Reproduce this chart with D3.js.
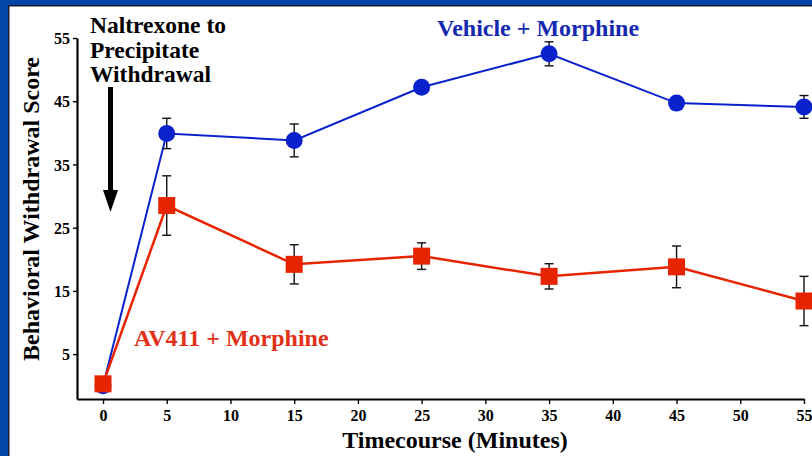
<!DOCTYPE html>
<html>
  <head>
    <meta charset="utf-8" />
    <title>Withdrawal timecourse</title>
    <script type="text/javascript" src="https://cdn.jsdelivr.net/npm/d3@7"></script>
    <style>
      body { margin: 0; background: #fff; }
      text { font-family: "Liberation Serif", "Times New Roman", serif; font-weight: bold; }
    </style>
  </head>
  <body>
    <div id="chart"></div>
    <script>
// timepoints (minutes) and scores
const times = [0, 5, 15, 25, 35, 45, 55];
const vehicleMean = [0, 39.9, 38.8, 47.2, 52.5, 44.7, 44.1];
const vehicleErr = [0, 2.4, 2.6, 0.9, 1.9, 0.7, 1.8];
const av411Mean = [0.3, 28.5, 19.2, 20.5, 17.3, 18.8, 13.4];
const av411Err = [0, 4.7, 3.1, 2.1, 2.0, 3.3, 3.9];
const xTicks = [0, 5, 10, 15, 20, 25, 30, 35, 40, 45, 50, 55];
const yTicks = [5, 15, 25, 35, 45, 55];

const W = 812, H = 456;
const blue = '#0a22cc', red = '#e62400';

const svg = d3.select('#chart').append('svg')
  .attr('width', W).attr('height', H);

// slide frame
svg.append('rect').attr('width', W).attr('height', H).attr('fill', '#0047a8');
svg.append('rect').attr('x', 8).attr('y', 5).attr('width', W).attr('height', H).attr('fill', '#1a1a2a');
svg.append('rect').attr('x', 9.5).attr('y', 6.5).attr('width', W).attr('height', H).attr('fill', '#fff');

const x = d3.scaleLinear().domain([-2.04, 55]).range([77, 804]);
const y = d3.scaleLinear().domain([-2.1, 55]).range([399, 38]);

const xAxis = svg.append('g')
  .attr('transform', 'translate(0,399)')
  .call(d3.axisBottom(x).tickValues(xTicks).tickSize(5).tickSizeOuter(0).tickPadding(6));
const yAxis = svg.append('g')
  .attr('transform', 'translate(77,0)')
  .call(d3.axisLeft(y).tickValues(yTicks).tickSize(4).tickSizeOuter(0).tickPadding(3));

[xAxis, yAxis].forEach(function (a) {
  a.attr('font-family', null).attr('font-size', null);
  a.select('.domain').attr('stroke', '#000').attr('stroke-width', 2.2);
  a.selectAll('.tick line').attr('stroke', '#000').attr('stroke-width', 1.4);
  a.selectAll('.tick text')
    .attr('fill', '#000')
    .style('font-size', '16px');
});
yAxis.selectAll('.tick text').attr('dy', '0.36em');

// axis titles
svg.append('text')
  .attr('x', 455).attr('y', 448)
  .attr('text-anchor', 'middle')
  .style('font-size', '24px')
  .text('Timecourse (Minutes)');
svg.append('text')
  .attr('transform', 'translate(39,209) rotate(-90)')
  .attr('text-anchor', 'middle')
  .style('font-size', '24px')
  .text('Behavioral Withdrawal Score');

const series = [
  { mean: vehicleMean, err: vehicleErr, color: blue, width: 2, shape: 'circle' },
  { mean: av411Mean, err: av411Err, color: red, width: 2.5, shape: 'square' }
];

const line = d3.line().x(d => x(d.t)).y(d => y(d.v));

series.forEach(function (s) {
  const pts = times.map((t, i) => ({ t: t, v: s.mean[i], e: s.err[i] }));

  svg.append('path')
    .datum(pts)
    .attr('fill', 'none')
    .attr('stroke', s.color)
    .attr('stroke-width', s.width)
    .attr('d', line);

  const eb = svg.append('g').selectAll('g').data(pts.filter(d => d.e > 0)).join('g')
    .attr('stroke', '#111').attr('stroke-width', 1.4);
  eb.append('line')
    .attr('x1', d => x(d.t)).attr('x2', d => x(d.t))
    .attr('y1', d => y(d.v + d.e)).attr('y2', d => y(d.v - d.e));
  eb.append('line')
    .attr('x1', d => x(d.t) - 4.5).attr('x2', d => x(d.t) + 4.5)
    .attr('y1', d => y(d.v + d.e)).attr('y2', d => y(d.v + d.e));
  eb.append('line')
    .attr('x1', d => x(d.t) - 4.5).attr('x2', d => x(d.t) + 4.5)
    .attr('y1', d => y(d.v - d.e)).attr('y2', d => y(d.v - d.e));

  if (s.shape === 'circle') {
    svg.append('g').selectAll('circle').data(pts).join('circle')
      .attr('cx', d => x(d.t)).attr('cy', d => y(d.v))
      .attr('r', 8.5).attr('fill', s.color);
  } else {
    svg.append('g').selectAll('rect').data(pts).join('rect')
      .attr('x', d => x(d.t) - 8.5).attr('y', d => y(d.v) - 8.5)
      .attr('width', 17).attr('height', 17)
      .attr('fill', s.color);
  }
});

// labels
svg.append('text').attr('x', 437).attr('y', 36)
  .attr('fill', '#1428b0').style('font-size', '24px')
  .text('Vehicle + Morphine');
svg.append('text').attr('x', 134).attr('y', 346)
  .attr('fill', '#e23019').style('font-size', '24px')
  .text('AV411 + Morphine');

const note = svg.append('text').attr('x', 90).attr('y', 33)
  .attr('fill', '#000').style('font-size', '23.5px');
['Naltrexone to', 'Precipitate', 'Withdrawal'].forEach(function (t, i) {
  note.append('tspan').attr('x', 90).attr('dy', i ? 24.5 : 0).text(t);
});

// arrow
svg.append('line')
  .attr('x1', 110.5).attr('x2', 110.5).attr('y1', 87).attr('y2', 195)
  .attr('stroke', '#000').attr('stroke-width', 5);
svg.append('path')
  .attr('d', 'M103,190 L118,190 L110.5,212 Z')
  .attr('fill', '#000');
    </script>
  </body>
</html>
